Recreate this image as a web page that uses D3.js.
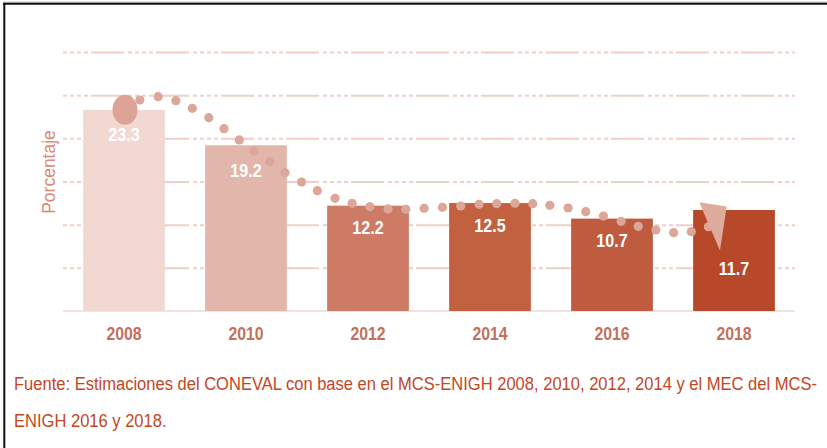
<!DOCTYPE html>
<html><head><meta charset="utf-8">
<script src="https://cdn.jsdelivr.net/npm/d3@7"></script>
<style>body{margin:0;background:#fff}svg{display:block}</style>
</head><body>
<svg id="c" width="827" height="448"></svg>
<script>
// ---- data ----
const years = ["2008","2010","2012","2014","2016","2018"];
const values = [23.3, 19.2, 12.2, 12.5, 10.7, 11.7];
const gridTicks = [5, 10, 15, 20, 25, 30];
// decorative dotted trend (year, percent)
const trendYear = [2008.26,2008.56,2008.85,2009.12,2009.39,2009.64,2009.89,2010.13,2010.39,2010.64,2010.91,2011.17,2011.46,2011.74,2012.03,2012.33,2012.62,2012.92,2013.22,2013.52,2013.82,2014.11,2014.41,2014.70,2014.98,2015.28,2015.57,2015.86,2016.15,2016.43,2016.72,2017.01,2017.30,2017.58];
const trendPct = [24.44,24.82,24.36,23.48,22.39,21.12,19.81,18.53,17.29,16.02,14.94,13.94,13.05,12.48,12.08,11.82,11.78,11.90,12.01,12.16,12.36,12.43,12.48,12.43,12.24,11.93,11.50,11.00,10.39,9.81,9.38,9.07,9.19,9.76];
const arrowYear = [2017.43, 2017.88, 2017.77];
const arrowPct = [12.60, 12.09, 7.00];
const yLabel = "Porcentaje";
const source1 = "Fuente: Estimaciones del CONEVAL con base en el MCS-ENIGH 2008, 2010, 2012, 2014 y el MEC del MCS-";
const source2 = "ENIGH 2016 y 2018.";

const barColors = ["#f1d9d2","#e2b6aa","#cd7b65","#c2613f","#bf5b3e","#b8482a"];

const svg = d3.select("#c");

// frame (top + left)
svg.append("line").attr("x1",3).attr("x2",827).attr("y1",2.2).attr("y2",2.2).attr("stroke","#b0b0b0").attr("stroke-width",1);
svg.append("line").attr("x1",3).attr("x2",827).attr("y1",3.8).attr("y2",3.8).attr("stroke","#111").attr("stroke-width",2);
svg.append("line").attr("x1",4.3).attr("x2",4.3).attr("y1",3).attr("y2",448).attr("stroke","#111").attr("stroke-width",2);

const x = d3.scaleBand().domain(years).range([63, 795]).paddingInner(0.33).paddingOuter(0.165);
const y = d3.scaleLinear().domain([0, 30]).range([311, 52]);
const xc = d3.scaleLinear().domain([2008, 2018])
  .range([x("2008") + x.bandwidth()/2, x("2018") + x.bandwidth()/2]);

// gridlines
const grid = svg.append("g").attr("transform","translate(63,0)")
  .call(d3.axisLeft(y).tickValues(gridTicks).tickSize(-732).tickFormat(""));
grid.select(".domain").remove();
grid.selectAll(".tick line").attr("stroke","#f0cfc6").attr("stroke-width",2)
  .attr("stroke-dasharray","4,3,4,3,4,3,4,3,33,4");

// baseline
svg.append("line").attr("x1",63).attr("x2",795).attr("y1",y(0)).attr("y2",y(0))
  .attr("stroke","#f0e3df").attr("stroke-width",2);

// bars
svg.selectAll("rect.bar").data(values).join("rect").attr("class","bar")
  .attr("x",(d,i)=>x(years[i])).attr("width",x.bandwidth())
  .attr("y",d=>y(d)).attr("height",d=>y(0)-y(d))
  .attr("fill",(d,i)=>barColors[i]);

// dotted trend
const dotColor = "#dca698";
svg.append("ellipse").attr("cx",xc(2008)+1).attr("cy",y(values[0]))
  .attr("rx",12.5).attr("ry",15).attr("fill","#dea397");
svg.selectAll("circle.dot").data(trendYear).join("circle").attr("class","dot")
  .attr("cx",d=>xc(d)).attr("cy",(d,i)=>y(trendPct[i])).attr("r",4.6).attr("fill",dotColor);
svg.append("path")
  .attr("d", d3.line()(arrowYear.map((d,i)=>[xc(d), y(arrowPct[i])])) + "Z")
  .attr("fill","#dfab9d");

function squeeze(sel, f){
  sel.each(function(){
    const w = this.getComputedTextLength();
    d3.select(this).attr("textLength", w*f).attr("lengthAdjust","spacingAndGlyphs");
  });
}

// value labels
const lab = svg.selectAll("text.val").data(values).join("text").attr("class","val")
  .attr("x",(d,i)=>x(years[i]) + x.bandwidth()/2)
  .attr("y",(d,i)=>y(d) + (i===5 ? 65 : (i<2 ? 31.5 : 28.8)))
  .attr("text-anchor","middle").attr("fill","#fff")
  .attr("font-family","'Liberation Sans', Arial, sans-serif").attr("font-weight","bold")
  .attr("font-size",18.5).text(d=>d.toFixed(1));
squeeze(lab, 0.87);

// x axis labels
const xl = svg.selectAll("text.yr").data(years).join("text").attr("class","yr")
  .attr("x",d=>x(d)+x.bandwidth()/2).attr("y",340)
  .attr("text-anchor","middle").attr("fill","#c4705b")
  .attr("font-family","'Liberation Sans', Arial, sans-serif").attr("font-weight","bold")
  .attr("font-size",18).text(d=>d);
squeeze(xl, 0.88);

// y label
svg.append("text").attr("transform","translate(55,172) rotate(-90)")
  .attr("text-anchor","middle").attr("fill","#da8a73")
  .attr("font-family","'Liberation Sans', Arial, sans-serif").attr("font-size",17.5)
  .text(yLabel);

// source (font kept small enough to fit naturally, then stretched vertically)
const srcW = 803;
const s1 = svg.append("text").attr("transform","translate(14,390) scale(1,1.1)")
  .attr("fill","#c4461f")
  .attr("font-family","'Liberation Sans', Arial, sans-serif").attr("font-size",16).text(source1);
const w1 = s1.node().getComputedTextLength();
const f = Math.min(srcW / w1, 1.06);
s1.attr("textLength", w1*f).attr("lengthAdjust","spacingAndGlyphs");
const s2 = svg.append("text").attr("transform","translate(14,427) scale(1,1.1)")
  .attr("fill","#c4461f")
  .attr("font-family","'Liberation Sans', Arial, sans-serif").attr("font-size",16).text(source2);
squeeze(s2, f);
</script>
</body></html>
